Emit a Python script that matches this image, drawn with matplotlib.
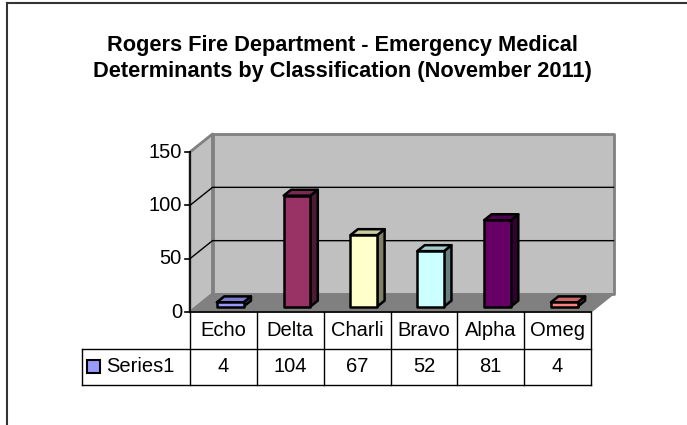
import matplotlib
matplotlib.use("Agg")
from matplotlib import pyplot as plt
from matplotlib.patches import Polygon, Rectangle
from matplotlib.lines import Line2D

# Data
categories = ['Echo', 'Delta', 'Charli', 'Bravo', 'Alpha', 'Omeg']
values = [4, 104, 67, 52, 81, 4]
bar_colors = ['#9999FF', '#993366', '#FFFFCC', '#CCFFFF', '#660066', '#FF8080']
series_name = 'Series1'
yticks = [0, 50, 100, 150]
title_lines = ["Rogers Fire Department - Emergency Medical",
               "Determinants by Classification (November 2011)"]

plt.rcParams['font.family'] = ['Liberation Sans', 'DejaVu Sans']
W, H = 687, 425
fig = plt.figure(dpi=100, figsize=(W / 100, H / 100))
fig.patch.set_facecolor('white')

# outer chart frame (top and left edges visible)
fig.add_artist(Line2D([7 / W, 7 / W], [0, 1 - 3 / H], transform=fig.transFigure,
                      color='#333333', lw=1.5))
fig.add_artist(Line2D([7 / W, 1], [1 - 3 / H, 1 - 3 / H], transform=fig.transFigure,
                      color='#333333', lw=1.5))

# title, two lines
for line, yb in zip(title_lines, [51, 77]):
    fig.text(342 / W, 1 - yb / H, line, ha='center', va='baseline', fontsize=15.7,
             fontweight='bold')

# main plot area (front plane)
ax = fig.add_axes([190 / W, (H - 312) / H, 401 / W, 160 / H])
ax.set_xlim(-0.5, 5.5)
ax.set_ylim(0, 150)
ax.axis('off')

# depth offset in data units
DX = 22.5 / (401 / 6)
DY = 18 / (160 / 150)
x0, x1 = -0.5, 5.5
ymax = yticks[-1]


def poly(pts, fc, ec='black', lw=1.2, z=1):
    ax.add_patch(Polygon(pts, closed=True, facecolor=fc, edgecolor=ec, lw=lw,
                         zorder=z, clip_on=False, joinstyle='round'))


# back wall
poly([(x0 + DX, DY), (x1 + DX, DY), (x1 + DX, ymax + DY), (x0 + DX, ymax + DY)],
     '#C0C0C0', ec='#808080', lw=2)
# side wall
poly([(x0, 0), (x0 + DX, DY), (x0 + DX, ymax + DY), (x0, ymax)],
     '#C0C0C0', ec='#808080', lw=2)
# floor
poly([(x0, 0), (x1, 0), (x1 + DX, DY), (x0 + DX, DY)], '#808080', ec='#808080', lw=1)

# gridlines
for t in yticks[1:-1]:
    ax.plot([x0, x0 + DX, x1 + DX], [t, t + DY, t + DY], color='black', lw=1,
            zorder=2, clip_on=False)

# y axis with ticks
ax.plot([x0, x0], [0, ymax], color='black', lw=1.2, zorder=5, clip_on=False)
ax.plot([x0, x1], [0, 0], color='black', lw=1.2, zorder=5, clip_on=False)
for t in yticks:
    ax.plot([x0 - 0.08, x0], [t, t], color='black', lw=1.2, zorder=5, clip_on=False)
    ax.text(x0 - 0.12, t, str(t), ha='right', va='center', fontsize=14.5)

# 3D bars
f0, f1 = 0.3, 0.63
hw = 0.2
for i, (v, c) in enumerate(zip(values, bar_colors)):
    rgb = matplotlib.colors.to_rgb(c)
    side = tuple(ch * 0.5 for ch in rgb)
    top = tuple(ch * 0.8 for ch in rgb)
    xl = i - hw + f0 * DX
    xr = i + hw + f0 * DX
    yb = f0 * DY
    yt = yb + v
    ddx = (f1 - f0) * DX
    ddy = (f1 - f0) * DY
    poly([(xr, yb), (xr + ddx, yb + ddy), (xr + ddx, yt + ddy), (xr, yt)], side, lw=1.8, z=3)
    poly([(xl, yt), (xr, yt), (xr + ddx, yt + ddy), (xl + ddx, yt + ddy)], top, lw=1.8, z=3)
    poly([(xl, yb), (xr, yb), (xr, yt), (xl, yt)], c, lw=1.8, z=4)

# data table
tab = fig.add_axes([190 / W, (H - 385) / H, 401 / W, 73 / H])
tab.set_xlim(-0.5, 5.5)
tab.set_ylim(0, 2)
tab.axis('off')
label_w = 108 / (401 / 6)
lc = 'black'
for k in range(len(categories) + 1):
    tab.plot([k - 0.5, k - 0.5], [0, 2], color=lc, lw=1, clip_on=False)
tab.plot([-0.5 - label_w, 5.5], [1, 1], color=lc, lw=1, clip_on=False)
tab.plot([-0.5 - label_w, 5.5], [0, 0], color=lc, lw=1, clip_on=False)
tab.plot([-0.5 - label_w, -0.5 - label_w], [0, 1], color=lc, lw=1, clip_on=False)
for i, (name, v) in enumerate(zip(categories, values)):
    tab.text(i, 1.5, name, ha='center', va='center', fontsize=14.5)
    tab.text(i, 0.5, str(v), ha='center', va='center', fontsize=14.5)
key_w = 13 / (401 / 6)
tab.add_patch(Rectangle((-0.5 - label_w + 0.075, 0.5 - 0.18), key_w, 0.36,
                        facecolor=bar_colors[0], edgecolor='black', lw=1.5, clip_on=False))
tab.text(-0.5 - label_w + 0.36, 0.5, series_name, ha='left', va='center', fontsize=14.5)

fig.savefig('out.png', dpi=100)
